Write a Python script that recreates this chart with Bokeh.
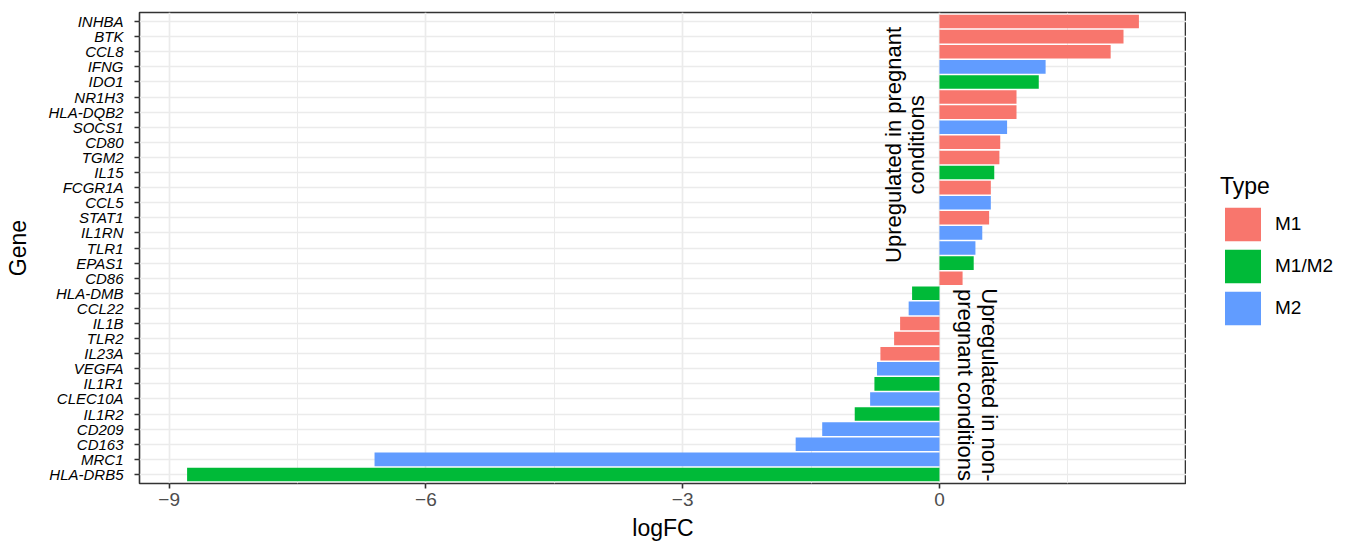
import math
import numpy as np
from bokeh.plotting import figure
from bokeh.layouts import row
from bokeh.models import ColumnDataSource, Range1d, FixedTicker, Legend, LegendItem
from bokeh.core.properties import value
from bokeh.embed import file_html
from bokeh.resources import INLINE

# ---- data (top to bottom as drawn) ----
genes = ["INHBA", "BTK", "CCL8", "IFNG", "IDO1", "NR1H3", "HLA-DQB2", "SOCS1", "CD80",
         "TGM2", "IL15", "FCGR1A", "CCL5", "STAT1", "IL1RN", "TLR1", "EPAS1", "CD86",
         "HLA-DMB", "CCL22", "IL1B", "TLR2", "IL23A", "VEGFA", "IL1R1", "CLEC10A",
         "IL1R2", "CD209", "CD163", "MRC1", "HLA-DRB5"]
logfc = [2.33, 2.15, 2.00, 1.24, 1.16, 0.90, 0.90, 0.79, 0.71,
         0.70, 0.64, 0.60, 0.60, 0.58, 0.50, 0.42, 0.40, 0.27,
         -0.32, -0.36, -0.46, -0.53, -0.69, -0.73, -0.76, -0.81,
         -0.99, -1.37, -1.68, -6.60, -8.79]
types = ["M1", "M1", "M1", "M2", "M1/M2", "M1", "M1", "M2", "M1",
         "M1", "M1/M2", "M1", "M2", "M1", "M2", "M2", "M1/M2", "M1",
         "M1/M2", "M2", "M1", "M1", "M1", "M2", "M1/M2", "M2",
         "M1/M2", "M2", "M2", "M2", "M1/M2"]
type_levels = ["M1", "M1/M2", "M2"]
type_colors = ["#F8766D", "#00BA38", "#619CFF"]

x_ticks = [-9, -6, -3, 0]
x_tick_labels = ["\u22129", "\u22126", "\u22123", "0"]
x_minor_ticks = [-7.5, -4.5, -1.5, 1.5]

ann_text = ["Upregulated in pregnant", "conditions",
            "Upregulated in non-", "pregnant conditions"]
ann_x = [-0.54, -0.27, 0.59, 0.305]
ann_y = [22.83, 22.83, 6.93, 6.93]
ann_angle = [math.pi / 2, math.pi / 2, -math.pi / 2, -math.pi / 2]

FONT = "Liberation Sans"

n = len(genes)
ypos = [n - i for i in range(n)]

lo, hi = min(logfc), max(logfc)
pad = 0.05 * (hi - lo)

p = figure(frame_width=1047, frame_height=471,
           x_range=Range1d(lo - pad, hi + pad),
           y_range=Range1d(0.4, n + 0.6),
           output_backend="svg", toolbar_location=None,
           min_border_left=139, min_border_right=0,
           min_border_top=12, min_border_bottom=59)

p.background_fill_color = "white"
p.border_fill_color = "white"
p.outline_line_color = "#333333"
p.outline_line_width = 1.6

renderers = []
for lvl, col in zip(type_levels, type_colors):
    idx = [i for i, t in enumerate(types) if t == lvl]
    src = ColumnDataSource(dict(y=[ypos[i] for i in idx],
                                right=[logfc[i] for i in idx]))
    r = p.hbar(y="y", right="right", left=0, height=0.9, source=src,
               fill_color=col, line_color=None)
    renderers.append(r)

ann_src = ColumnDataSource(dict(x=ann_x, y=ann_y, text=ann_text, angle=ann_angle))
p.text(x="x", y="y", text="text", angle="angle", source=ann_src,
       text_font=value(FONT), text_font_size="22px", text_color="black",
       text_align="center", text_baseline="alphabetic")

# x axis
xa = p.xaxis[0]
xa.ticker = FixedTicker(ticks=x_ticks, minor_ticks=x_minor_ticks)
xa.major_label_overrides = {t: l for t, l in zip(x_ticks, x_tick_labels)}
xa.axis_line_color = None
xa.major_tick_line_color = "#333333"
xa.major_tick_line_width = 1.6
xa.major_tick_out = 5
xa.major_tick_in = 0
xa.minor_tick_line_color = None
xa.major_label_text_font = FONT
xa.major_label_text_font_size = "19px"
xa.major_label_text_color = "#4D4D4D"
xa.major_label_standoff = 4
xa.axis_label = "logFC"
xa.axis_label_text_font = FONT
xa.axis_label_text_font_size = "23px"
xa.axis_label_text_font_style = "normal"
xa.axis_label_text_color = "black"
xa.axis_label_standoff = 6

# y axis
ya = p.yaxis[0]
ya.ticker = FixedTicker(ticks=ypos)
ya.major_label_overrides = {y: g for y, g in zip(ypos, genes)}
ya.axis_line_color = None
ya.major_tick_line_color = "#333333"
ya.major_tick_line_width = 1.6
ya.major_tick_out = 5
ya.major_tick_in = 0
ya.minor_tick_line_color = None
ya.major_label_text_font = FONT
ya.major_label_text_font_size = "15px"
ya.major_label_text_font_style = "italic"
ya.major_label_text_color = "black"
ya.major_label_standoff = 11
ya.axis_label = "Gene"
ya.axis_label_text_font = FONT
ya.axis_label_text_font_size = "23px"
ya.axis_label_text_font_style = "normal"
ya.axis_label_text_color = "black"
ya.axis_label_standoff = 14

p.xgrid.grid_line_color = "#EBEBEB"
p.xgrid.grid_line_width = 1.7
p.xgrid.minor_grid_line_color = "#EBEBEB"
p.xgrid.minor_grid_line_width = 1.0
p.ygrid.grid_line_color = "#EBEBEB"
p.ygrid.grid_line_width = 1.7

# ---- legend panel to the right of the plot ----
lg = figure(width=166, height=542, output_backend="svg", toolbar_location=None,
            x_range=Range1d(0, 1), y_range=Range1d(0, 1),
            x_axis_location=None, y_axis_location=None, min_border=0)
lg.outline_line_color = None
lg.grid.visible = False
lg.background_fill_color = "white"
lg.border_fill_color = "white"
key_renderers = []
for col in type_colors:
    ks = ColumnDataSource(dict(y=np.array([np.nan]), right=np.array([np.nan])))
    key_renderers.append(lg.hbar(y="y", right="right", left=0, height=0.9, source=ks,
                                 fill_color=col, line_color=None))

legend = Legend(items=[LegendItem(label=l, renderers=[r]) for l, r in zip(type_levels, key_renderers)],
                title="Type", location=(34, 153),
                glyph_width=45, glyph_height=42, spacing=0, label_standoff=10,
                label_text_font=FONT, label_text_font_size="19px", label_text_color="black",
                title_text_font=FONT, title_text_font_size="23px", title_text_font_style="normal",
                title_text_color="black", title_standoff=3,
                padding=0, margin=0, border_line_color=None, background_fill_alpha=0)
lg.add_layout(legend)

open("out.html", "w").write(file_html(row(p, lg), INLINE))
